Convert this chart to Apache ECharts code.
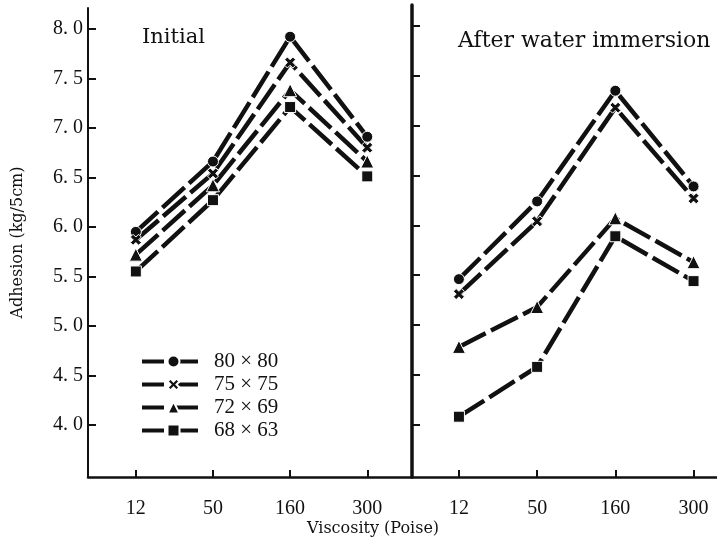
<!DOCTYPE html>
<html>
<head>
<meta charset="UTF-8">
<title>Adhesion vs viscosity</title>
<script src="https://cdn.jsdelivr.net/npm/echarts@6/dist/echarts.min.js"></script>
<style>
  html, body { margin: 0; padding: 0; background: #fff; }
  #main { width: 717px; height: 550px; }
</style>
</head>
<body>
<div id="main"></div>
<script>
// viscosity categories (Poise)
var categories = ['12', '50', '160', '300'];
var seriesNames = ['80 × 80', '75 × 75', '72 × 69', '68 × 63'];
var yTicks = [4.0, 4.5, 5.0, 5.5, 6.0, 6.5, 7.0, 7.5, 8.0];

// adhesion kg/5cm, initial
var init80 = [5.95, 6.66, 7.92, 6.91];
var init75 = [5.87, 6.54, 7.66, 6.80];
var init72 = [5.72, 6.42, 7.38, 6.66];
var init68 = [5.55, 6.27, 7.21, 6.51];

// adhesion kg/5cm, after water immersion
var wet80 = [5.46, 6.24, 7.35, 6.39];
var wet75 = [5.31, 6.04, 7.18, 6.27];
var wet72 = [4.78, 5.18, 6.07, 5.63];
var wet68 = [4.08, 4.58, 5.89, 5.44];

var crossPath = 'path://M0,2.5 L2.5,0 L5,2.5 L7.5,0 L10,2.5 L7.5,5 L10,7.5 L7.5,10 L5,7.5 L2.5,10 L0,7.5 L2.5,5 Z';
var symbols = ['circle', crossPath, 'triangle', 'rect'];
var serif = '"Liberation Serif", "Times New Roman", serif';
var wideSerif = '"DejaVu Serif", serif';

function pairs(vals) {
  var out = [];
  for (var i = 0; i < vals.length; i++) out.push([i, vals[i]]);
  return out;
}

function makeSeries(name, idx, vals, axisIdx) {
  return {
    name: name,
    type: 'line',
    xAxisIndex: axisIdx,
    yAxisIndex: axisIdx,
    data: pairs(vals),
    smooth: false,
    symbol: symbols[idx],
    symbolSize: idx == 2 ? 13 : 11,
    lineStyle: { color: '#111', width: 4.5, type: [30, 6] },
    itemStyle: { color: '#111', borderColor: '#fff', borderWidth: 1 },
    emphasis: { disabled: true },
    z: 3
  };
}

var initData = [init80, init75, init72, init68];
var wetData = [wet80, wet75, wet72, wet68];
var series = [];
for (var i = 0; i < 4; i++) series.push(makeSeries(seriesNames[i], i, initData[i], 0));
for (var j = 0; j < 4; j++) series.push(makeSeries(seriesNames[j], j, wetData[j], 1));

function xAxisCfg(gridIdx, min, max) {
  return {
    type: 'value',
    gridIndex: gridIdx,
    min: min,
    max: max,
    splitLine: { show: false },
    axisLine: { show: true, onZero: false, lineStyle: { color: '#111', width: 2.5 } },
    axisTick: { show: true, inside: true, length: 7, customValues: [0, 1, 2, 3],
      lineStyle: { color: '#111', width: 2 } },
    axisLabel: {
      customValues: [0, 1, 2, 3],
      margin: 22,
      color: '#111',
      fontFamily: serif,
      fontSize: 20,
      formatter: function (v) { return categories[Math.round(v)]; }
    }
  };
}

function yAxisCfg(gridIdx, showLabel, lineW) {
  return {
    type: 'value',
    gridIndex: gridIdx,
    min: 3.475,
    max: 8.21,
    splitLine: { show: false },
    axisLine: { show: true, onZero: false, lineStyle: { color: '#111', width: lineW } },
    axisTick: { show: true, inside: true, length: 8, customValues: yTicks,
      lineStyle: { color: '#111', width: 2 } },
    axisLabel: {
      show: showLabel,
      customValues: yTicks,
      margin: 5,
      color: '#111',
      fontFamily: serif,
      fontSize: 20,
      formatter: function (v) { return v.toFixed(1).replace('.', '. '); }
    },
    name: showLabel ? 'Adhesion (kg/5cm)' : '',
    nameLocation: 'middle',
    nameRotate: 90,
    nameGap: 62,
    nameTextStyle: { color: '#111', fontFamily: wideSerif, fontSize: 16 }
  };
}

var myChart = echarts.init(document.getElementById('main'));
var option = {
  backgroundColor: '#fff',
  animation: false,
  title: [
    { text: 'Initial', left: 137, top: 22,
      textStyle: { color: '#111', fontFamily: wideSerif, fontSize: 21, fontWeight: 'normal' } },
    { text: 'After water immersion', left: 453, top: 25,
      textStyle: { color: '#111', fontFamily: wideSerif, fontSize: 22, fontWeight: 'normal' } }
  ],
  legend: {
    data: seriesNames,
    orient: 'vertical',
    left: 135,
    top: 346,
    itemWidth: 63,
    itemHeight: 15,
    itemGap: 2,
    selectedMode: false,
    lineStyle: { width: 4, type: [22, 12], color: '#111' },
    textStyle: { color: '#111', fontFamily: serif, fontSize: 21, padding: [0, 0, 0, 4] }
  },
  grid: [
    { left: 88, right: 305, top: 8, bottom: 73 },
    { left: 412, right: 0, top: 5, bottom: 73 }
  ],
  xAxis: [
    xAxisCfg(0, -0.62, 3.58),
    xAxisCfg(1, -0.6, 3.3)
  ],
  yAxis: [
    yAxisCfg(0, true, 2),
    yAxisCfg(1, false, 3.5)
  ],
  graphic: [
    { type: 'text', left: 307, top: 521,
      style: { text: 'Viscosity (Poise)', fill: '#111', font: '16px ' + wideSerif } }
  ],
  series: series
};
myChart.setOption(option);
</script>
</body>
</html>
